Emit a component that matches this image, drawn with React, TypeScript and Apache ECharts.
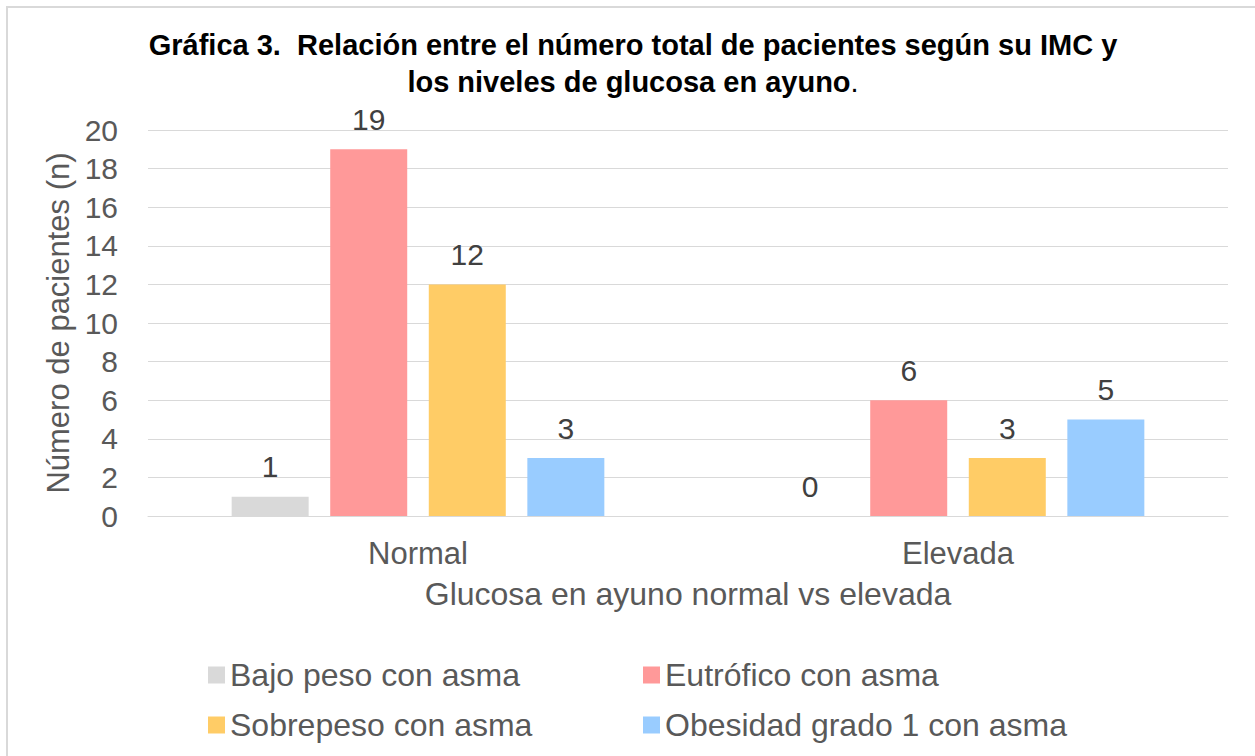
import React, { useEffect, useRef } from "react";
import * as echarts from "echarts";

const categories = ["Normal", "Elevada"];
const seriesNames = [
  "Bajo peso con asma",
  "Eutrófico con asma",
  "Sobrepeso con asma",
  "Obesidad grado 1 con asma",
];
const bajoPeso = [1, 0];
const eutrofico = [19, 6];
const sobrepeso = [12, 3];
const obesidad = [3, 5];
const seriesColors = ["#d9d9d9", "#ff9999", "#ffcc66", "#99ccff"];
const titleLine1 = "Gráfica 3.  Relación entre el número total de pacientes según su IMC y";
const titleLine2 = "los niveles de glucosa en ayuno";
const yAxisName = "Número de pacientes (n)";
const xAxisName = "Glucosa en ayuno normal vs elevada";

const FONT = "Arial, 'Liberation Sans', sans-serif";

export default function App() {
  const ref = useRef<HTMLDivElement>(null);
  useEffect(() => {
    if (!ref.current) return;
    const chart = echarts.init(ref.current, null, { renderer: "svg" });
    const values = [bajoPeso, eutrofico, sobrepeso, obesidad];
    const series = seriesNames.map((name, i) => ({
      name,
      type: "bar",
      data: values[i],
      barWidth: 77,
      barGap: "28%",
      itemStyle: { color: seriesColors[i] },
      label: {
        show: true,
        position: "top",
        distance: 15,
        fontSize: 30,
        fontFamily: FONT,
        color: "#404040",
      },
    }));
    chart.setOption({
      animation: false,
      backgroundColor: "#ffffff",
      textStyle: { fontFamily: FONT },
      graphic: [
        {
          type: "rect",
          shape: { x: 7, y: 7, width: 1300, height: 800 },
          style: { fill: "none", stroke: "#d9d9d9", lineWidth: 2 },
          silent: true,
        },
        {
          type: "text",
          x: 633,
          y: 45,
          style: {
            text: titleLine1,
            fontSize: 29,
            fontWeight: "bold",
            fontFamily: FONT,
            fill: "#000000",
            align: "center",
            verticalAlign: "middle",
          },
        },
        {
          type: "text",
          x: 633,
          y: 82,
          style: {
            text: "{b|" + titleLine2 + "}{n|.}",
            fontFamily: FONT,
            align: "center",
            verticalAlign: "middle",
            rich: {
              b: { fontSize: 29, fontWeight: "bold", fontFamily: FONT, fill: "#000000" },
              n: { fontSize: 29, fontWeight: "normal", fontFamily: FONT, fill: "#000000" },
            },
          },
        },
      ],
      legend: [
        {
          orient: "vertical",
          left: 208,
          top: 659,
          padding: 0,
          itemWidth: 17,
          itemHeight: 17,
          itemGap: 18,
          icon: "rect",
          data: [seriesNames[0], seriesNames[2]],
          textStyle: { fontSize: 32, lineHeight: 32, color: "#595959", fontFamily: FONT },
        },
        {
          orient: "vertical",
          left: 643,
          top: 659,
          padding: 0,
          itemWidth: 17,
          itemHeight: 17,
          itemGap: 18,
          icon: "rect",
          data: [seriesNames[1], seriesNames[3]],
          textStyle: { fontSize: 32, lineHeight: 32, color: "#595959", fontFamily: FONT },
        },
      ],
      grid: { left: 148, right: 27, top: 130, bottom: 240, containLabel: false },
      xAxis: {
        type: "category",
        data: categories,
        name: xAxisName,
        nameLocation: "middle",
        nameGap: 62,
        nameTextStyle: { fontSize: 32, color: "#595959", fontFamily: FONT, verticalAlign: "top" },
        axisTick: { show: false },
        axisLine: { lineStyle: { color: "#d9d9d9", width: 1 } },
        axisLabel: { fontSize: 31, color: "#595959", margin: 22, fontFamily: FONT },
      },
      yAxis: {
        type: "value",
        min: 0,
        max: 20,
        interval: 2,
        name: yAxisName,
        nameLocation: "middle",
        nameGap: 72,
        nameTextStyle: { fontSize: 31, color: "#595959", fontFamily: FONT },
        axisLine: { show: false },
        axisTick: { show: false },
        axisLabel: { fontSize: 30, color: "#595959", margin: 30, fontFamily: FONT },
        splitLine: { lineStyle: { color: "#d9d9d9", width: 1 } },
      },
      series,
    });
    return () => chart.dispose();
  }, []);
  return (
    <div
      ref={ref}
      style={{ position: "fixed", left: 0, top: 0, width: 1255, height: 756, background: "#fff" }}
    />
  );
}
